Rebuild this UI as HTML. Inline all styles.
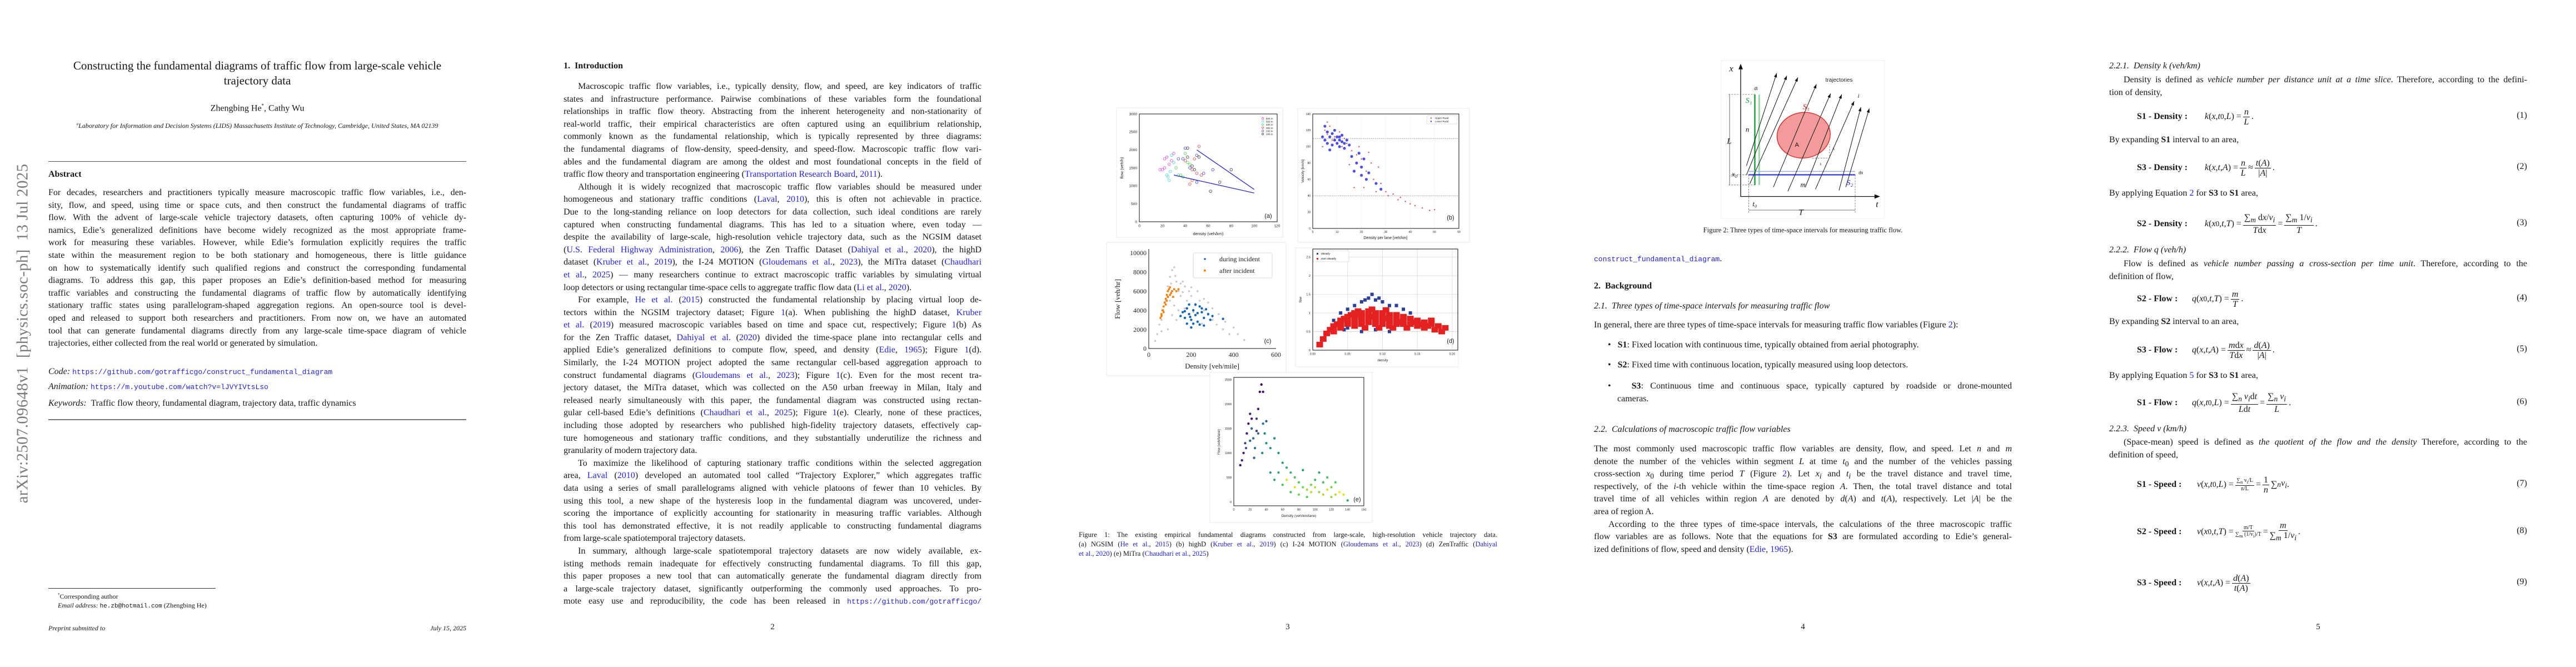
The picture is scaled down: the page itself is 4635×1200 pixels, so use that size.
<!DOCTYPE html>
<html><head><meta charset="utf-8"><title>Constructing the fundamental diagrams of traffic flow</title>
<style>
*{margin:0;padding:0;box-sizing:border-box}
html,body{width:4635px;height:1200px;overflow:hidden;background:#fff}
body{position:relative;font-family:"Liberation Serif",serif;color:#161616;font-size:16px}
.a{position:absolute}
.blk{position:absolute;width:752px;line-height:22.6px;font-size:16px}
.ln{text-align:justify;text-align-last:justify;height:22.6px;white-space:normal}
.ll{text-align:left;text-align-last:left;height:22.6px}
.in{padding-left:26px}
.c{color:#2424d8}
.m{font-family:"Liberation Mono",monospace;font-size:13px}
.pn{position:absolute;top:1120px;width:30px;text-align:center;font-size:15px}
.eqrow{position:absolute;height:44px;display:flex;align-items:center;font-size:16px}
.fr{display:inline-flex;flex-direction:column;align-items:center;vertical-align:middle;margin:0 3px;line-height:17px}
.fr>span:first-child{border-bottom:1px solid #1c1c1c;padding:0 2px}
.fr.s{font-size:10px;line-height:11px}
</style></head>
<body>
<svg id="ov" class="a" style="left:0;top:0" width="4635" height="1200"></svg>

<!-- PAGE 1 -->
<div class="a" style="left:41px;top:600px;transform:translate(-50%,-50%) rotate(-90deg);white-space:nowrap;font-size:29px;color:#7a7a7a;letter-spacing:0.3px">arXiv:2507.09648v1&nbsp; [physics.soc-ph]&nbsp; 13 Jul 2025</div>
<div class="a" style="left:87px;top:105px;width:752px;text-align:center;font-size:21px;line-height:27px">Constructing the fundamental diagrams of traffic flow from large-scale vehicle<br>trajectory data</div>
<div class="a" style="left:87px;top:185px;width:752px;text-align:center;font-size:16px">Zhengbing He<sup style="font-size:9px">*</sup>, Cathy Wu</div>
<div class="a" style="left:87px;top:219px;width:752px;text-align:center;font-size:12px;font-style:italic"><sup style="font-size:7px">a</sup>Laboratory for Information and Decision Systems (LIDS) Massachusetts Institute of Technology, Cambridge, United States, MA 02139</div>
<div class="a" style="left:87px;top:290px;width:752px;height:1px;background:#555"></div>
<div class="a" style="left:87px;top:305px;font-weight:bold;font-size:16px">Abstract</div>
<div class="blk" style="left:87px;top:336px">
<div class="ln">For decades, researchers and practitioners typically measure macroscopic traffic flow variables, i.e., den-</div>
<div class="ln">sity, flow, and speed, using time or space cuts, and then construct the fundamental diagrams of traffic</div>
<div class="ln">flow. With the advent of large-scale vehicle trajectory datasets, often capturing 100% of vehicle dy-</div>
<div class="ln">namics, Edie’s generalized definitions have become widely recognized as the most appropriate frame-</div>
<div class="ln">work for measuring these variables. However, while Edie’s formulation explicitly requires the traffic</div>
<div class="ln">state within the measurement region to be both stationary and homogeneous, there is little guidance</div>
<div class="ln">on how to systematically identify such qualified regions and construct the corresponding fundamental</div>
<div class="ln">diagrams. To address this gap, this paper proposes an Edie’s definition-based method for measuring</div>
<div class="ln">traffic variables and constructing the fundamental diagrams of traffic flow by automatically identifying</div>
<div class="ln">stationary traffic states using parallelogram-shaped aggregation regions. An open-source tool is devel-</div>
<div class="ln">oped and released to support both researchers and practitioners. From now on, we have an automated</div>
<div class="ln">tool that can generate fundamental diagrams directly from any large-scale time-space diagram of vehicle</div>
<div class="ll">trajectories, either collected from the real world or generated by simulation.</div>
</div>
<div class="a" style="left:87px;top:660px;font-size:16px"><i>Code:</i> <span class="m c">https://github.com/gotrafficgo/construct_fundamental_diagram</span></div>
<div class="a" style="left:87px;top:687px;font-size:16px"><i>Animation:</i> <span class="m c">https://m.youtube.com/watch?v=lJVYIVtsLso</span></div>
<div class="a" style="left:87px;top:717px;font-size:16px"><i>Keywords:</i>&nbsp; Traffic flow theory, fundamental diagram, trajectory data, traffic dynamics</div>
<div class="a" style="left:87px;top:754px;width:752px;height:2px;background:#777"></div>
<div class="a" style="left:87px;top:1058px;width:301px;height:1px;background:#333"></div>
<div class="a" style="left:104px;top:1062px;font-size:12px;line-height:16px"><sup style="font-size:7px">*</sup>Corresponding author<br><i>Email address:</i> <span class="m" style="font-size:11px">he.zb@hotmail.com</span> (Zhengbing He)</div>
<div class="a" style="left:87px;top:1123px;font-size:12px;font-style:italic">Preprint submitted to</div>
<div class="a" style="left:739px;width:100px;text-align:right;top:1123px;font-size:12px;font-style:italic">July 15, 2025</div>

<!-- PAGE 2 -->
<div class="a" style="left:1014px;top:110px;font-weight:bold;font-size:16px">1.&nbsp; Introduction</div>
<div class="blk" style="left:1014px;top:145px">
<div class="ln in">Macroscopic traffic flow variables, i.e., typically density, flow, and speed, are key indicators of traffic</div>
<div class="ln">states and infrastructure performance. Pairwise combinations of these variables form the foundational</div>
<div class="ln">relationships in traffic flow theory. Abstracting from the inherent heterogeneity and non-stationarity of</div>
<div class="ln">real-world traffic, their empirical characteristics are often captured using an equilibrium relationship,</div>
<div class="ln">commonly known as the fundamental relationship, which is typically represented by three diagrams:</div>
<div class="ln">the fundamental diagrams of flow-density, speed-density, and speed-flow. Macroscopic traffic flow vari-</div>
<div class="ln">ables and the fundamental diagram are among the oldest and most foundational concepts in the field of</div>
<div class="ll">traffic flow theory and transportation engineering (<span class="c">Transportation Research Board</span>, <span class="c">2011</span>).</div>
<div class="ln in">Although it is widely recognized that macroscopic traffic flow variables should be measured under</div>
<div class="ln">homogeneous and stationary traffic conditions (<span class="c">Laval</span>, <span class="c">2010</span>), this is often not achievable in practice.</div>
<div class="ln">Due to the long-standing reliance on loop detectors for data collection, such ideal conditions are rarely</div>
<div class="ln">captured when constructing fundamental diagrams. This has led to a situation where, even today —</div>
<div class="ln">despite the availability of large-scale, high-resolution vehicle trajectory data, such as the NGSIM dataset</div>
<div class="ln">(<span class="c">U.S. Federal Highway Administration</span>, <span class="c">2006</span>), the Zen Traffic Dataset (<span class="c">Dahiyal et al.</span>, <span class="c">2020</span>), the highD</div>
<div class="ln">dataset (<span class="c">Kruber et al.</span>, <span class="c">2019</span>), the I-24 MOTION (<span class="c">Gloudemans et al.</span>, <span class="c">2023</span>), the MiTra dataset (<span class="c">Chaudhari</span></div>
<div class="ln"><span class="c">et al.</span>, <span class="c">2025</span>) — many researchers continue to extract macroscopic traffic variables by simulating virtual</div>
<div class="ll">loop detectors or using rectangular time-space cells to aggregate traffic flow data (<span class="c">Li et al.</span>, <span class="c">2020</span>).</div>
<div class="ln in">For example, <span class="c">He et al.</span> (<span class="c">2015</span>) constructed the fundamental relationship by placing virtual loop de-</div>
<div class="ln">tectors within the NGSIM trajectory dataset; Figure <span class="c">1</span>(a). When publishing the highD dataset, <span class="c">Kruber</span></div>
<div class="ln"><span class="c">et al.</span> (<span class="c">2019</span>) measured macroscopic variables based on time and space cut, respectively; Figure <span class="c">1</span>(b) As</div>
<div class="ln">for the Zen Traffic dataset, <span class="c">Dahiyal et al.</span> (<span class="c">2020</span>) divided the time-space plane into rectangular cells and</div>
<div class="ln">applied Edie’s generalized definitions to compute flow, speed, and density (<span class="c">Edie</span>, <span class="c">1965</span>); Figure <span class="c">1</span>(d).</div>
<div class="ln">Similarly, the I-24 MOTION project adopted the same rectangular cell-based aggregation approach to</div>
<div class="ln">construct fundamental diagrams (<span class="c">Gloudemans et al.</span>, <span class="c">2023</span>); Figure <span class="c">1</span>(c). Even for the most recent tra-</div>
<div class="ln">jectory dataset, the MiTra dataset, which was collected on the A50 urban freeway in Milan, Italy and</div>
<div class="ln">released nearly simultaneously with this paper, the fundamental diagram was constructed using rectan-</div>
<div class="ln">gular cell-based Edie’s definitions (<span class="c">Chaudhari et al.</span>, <span class="c">2025</span>); Figure <span class="c">1</span>(e). Clearly, none of these practices,</div>
<div class="ln">including those adopted by researchers who published high-fidelity trajectory datasets, effectively cap-</div>
<div class="ln">ture homogeneous and stationary traffic conditions, and they substantially underutilize the richness and</div>
<div class="ll">granularity of modern trajectory data.</div>
<div class="ln in">To maximize the likelihood of capturing stationary traffic conditions within the selected aggregation</div>
<div class="ln">area, <span class="c">Laval</span> (<span class="c">2010</span>) developed an automated tool called “Trajectory Explorer,” which aggregates traffic</div>
<div class="ln">data using a series of small parallelograms aligned with vehicle platoons of fewer than 10 vehicles. By</div>
<div class="ln">using this tool, a new shape of the hysteresis loop in the fundamental diagram was uncovered, under-</div>
<div class="ln">scoring the importance of explicitly accounting for stationarity in measuring traffic variables. Although</div>
<div class="ln">this tool has demonstrated effective, it is not readily applicable to constructing fundamental diagrams</div>
<div class="ll">from large-scale spatiotemporal trajectory datasets.</div>
<div class="ln in">In summary, although large-scale spatiotemporal trajectory datasets are now widely available, ex-</div>
<div class="ln">isting methods remain inadequate for effectively constructing fundamental diagrams. To fill this gap,</div>
<div class="ln">this paper proposes a new tool that can automatically generate the fundamental diagram directly from</div>
<div class="ln">a large-scale trajectory dataset, significantly outperforming the commonly used approaches. To pro-</div>
<div class="ln">mote easy use and reproducibility, the code has been released in <span class="m c">https://github.com/gotrafficgo/</span></div>
</div>
<div class="pn" style="left:1375px">2</div>

<!-- PAGE 3 -->
<div class="a" style="left:1941px;top:954px;width:753px;font-size:12.5px;line-height:17px">
<div class="ln" style="height:17px">Figure 1: The existing empirical fundamental diagrams constructed from large-scale, high-resolution vehicle trajectory data.</div>
<div class="ln" style="height:17px">(a) NGSIM (<span class="c">He et al.</span>, <span class="c">2015</span>) (b) highD (<span class="c">Kruber et al.</span>, <span class="c">2019</span>) (c) I-24 MOTION (<span class="c">Gloudemans et al.</span>, <span class="c">2023</span>) (d) ZenTraffic (<span class="c">Dahiyal</span></div>
<div class="ll" style="height:17px"><span class="c">et al.</span>, <span class="c">2020</span>) (e) MiTra (<span class="c">Chaudhari et al.</span>, <span class="c">2025</span>)</div>
</div>
<div class="pn" style="left:2302px">3</div>

<!-- PAGE 4 -->
<div class="a" style="left:2868px;top:407px;width:752px;text-align:center;font-size:12.5px">Figure 2: Three types of time-space intervals for measuring traffic flow.</div>
<div class="a" style="left:2868px;top:457px;font-size:16px"><span class="m c">construct_fundamental_diagram</span>.</div>
<div class="a" style="left:2868px;top:506px;font-weight:bold">2.&nbsp; Background</div>
<div class="a" style="left:2868px;top:542px;font-style:italic">2.1.&nbsp; Three types of time-space intervals for measuring traffic flow</div>
<div class="a" style="left:2868px;top:576px">In general, there are three types of time-space intervals for measuring traffic flow variables (Figure <span class="c">2</span>):</div>
<div class="a" style="left:2893px;top:612px">•&nbsp;&nbsp; <b>S1</b>: Fixed location with continuous time, typically obtained from aerial photography.</div>
<div class="a" style="left:2893px;top:648px">•&nbsp;&nbsp; <b>S2</b>: Fixed time with continuous location, typically measured using loop detectors.</div>
<div class="a" style="left:2893px;top:684px;width:727px;line-height:22.6px"><div class="ln">•&nbsp;&nbsp; <b>S3</b>: Continuous time and continuous space, typically captured by roadside or drone-mounted</div><div class="ll" style="padding-left:17px">cameras.</div></div>
<div class="a" style="left:2868px;top:764px;font-style:italic">2.2.&nbsp; Calculations of macroscopic traffic flow variables</div>
<div class="blk" style="left:2868px;top:797px">
<div class="ln">The most commonly used macroscopic traffic flow variables are density, flow, and speed. Let <i>n</i> and <i>m</i></div>
<div class="ln">denote the number of the vehicles within segment <i>L</i> at time <i>t</i><sub>0</sub> and the number of the vehicles passing</div>
<div class="ln">cross-section <i>x</i><sub>0</sub> during time period <i>T</i> (Figure <span class="c">2</span>). Let <i>x<sub>i</sub></i> and <i>t<sub>i</sub></i> be the travel distance and travel time,</div>
<div class="ln">respectively, of the <i>i</i>-th vehicle within the time-space region <i>A</i>. Then, the total travel distance and total</div>
<div class="ln">travel time of all vehicles within region <i>A</i> are denoted by <i>d</i>(<i>A</i>) and <i>t</i>(<i>A</i>), respectively. Let |<i>A</i>| be the</div>
<div class="ll">area of region A.</div>
<div class="ln in">According to the three types of time-space intervals, the calculations of the three macroscopic traffic</div>
<div class="ln">flow variables are as follows. Note that the equations for <b>S3</b> are formulated according to Edie’s general-</div>
<div class="ll">ized definitions of flow, speed and density (<span class="c">Edie</span>, <span class="c">1965</span>).</div>
</div>
<div class="pn" style="left:3229px">4</div>

<!-- PAGE 5 -->
<div class="a" style="left:3795px;top:110px;font-style:italic">2.2.1.&nbsp; Density k (veh/km)</div>
<div class="blk" style="left:3795px;top:133px"><div class="ln in">Density is defined as <i>vehicle number per distance unit at a time slice</i>. Therefore, according to the defini-</div><div class="ll">tion of density,</div></div>
<div class="a" style="left:3795px;top:243px">By expanding <b>S1</b> interval to an area,</div>
<div class="a" style="left:3795px;top:339px">By applying Equation <span class="c">2</span> for <b>S3</b> to <b>S1</b> area,</div>
<div class="a" style="left:3795px;top:441px;font-style:italic">2.2.2.&nbsp; Flow q (veh/h)</div>
<div class="blk" style="left:3795px;top:464px"><div class="ln in">Flow is defined as <i>vehicle number passing a cross-section per time unit</i>. Therefore, according to the</div><div class="ll">definition of flow,</div></div>
<div class="a" style="left:3795px;top:570px">By expanding <b>S2</b> interval to an area,</div>
<div class="a" style="left:3795px;top:667px">By applying Equation <span class="c">5</span> for <b>S3</b> to <b>S1</b> area,</div>
<div class="a" style="left:3795px;top:763px;font-style:italic">2.2.3.&nbsp; Speed v (km/h)</div>
<div class="blk" style="left:3795px;top:785px"><div class="ln in">(Space-mean) speed is defined as <i>the quotient of the flow and the density</i> Therefore, according to the</div><div class="ll">definition of speed,</div></div>

<div class="eqrow" style="left:3845px;top:188px"><b style="width:122px">S1 - Density :</b><i>k</i>(<i>x</i>, <i>t</i><sub>0</sub>, <i>L</i>) = <span class="fr"><span><i>n</i></span><span><i>L</i></span></span>.</div>
<div class="eqrow" style="left:3845px;top:280px"><b style="width:122px">S3 - Density :</b><i>k</i>(<i>x</i>, <i>t</i>, <i>A</i>) = <span class="fr"><span><i>n</i></span><span><i>L</i></span></span> ≈ <span class="fr"><span><i>t</i>(<i>A</i>)</span><span>|<i>A</i>|</span></span>.</div>
<div class="eqrow" style="left:3845px;top:381px"><b style="width:122px">S2 - Density :</b><i>k</i>(<i>x</i><sub>0</sub>, <i>t</i>, <i>T</i>) = <span class="fr"><span>∑<sub><i>m</i></sub> d<i>x</i>/<i>v<sub>i</sub></i></span><span><i>T</i>d<i>x</i></span></span> = <span class="fr"><span>∑<sub><i>m</i></sub> 1/<i>v<sub>i</sub></i></span><span><i>T</i></span></span>.</div>
<div class="eqrow" style="left:3845px;top:516px"><b style="width:99px">S2 - Flow :</b><i>q</i>(<i>x</i><sub>0</sub>, <i>t</i>, <i>T</i>) = <span class="fr"><span><i>m</i></span><span><i>T</i></span></span>.</div>
<div class="eqrow" style="left:3845px;top:608px"><b style="width:99px">S3 - Flow :</b><i>q</i>(<i>x</i>, <i>t</i>, <i>A</i>) = <span class="fr"><span><i>m</i>d<i>x</i></span><span><i>T</i>d<i>x</i></span></span> ≈ <span class="fr"><span><i>d</i>(<i>A</i>)</span><span>|<i>A</i>|</span></span>.</div>
<div class="eqrow" style="left:3845px;top:703px"><b style="width:99px">S1 - Flow :</b><i>q</i>(<i>x</i>, <i>t</i><sub>0</sub>, <i>L</i>) = <span class="fr"><span>∑<sub><i>n</i></sub> <i>v<sub>i</sub></i>d<i>t</i></span><span><i>L</i>d<i>t</i></span></span> = <span class="fr"><span>∑<sub><i>n</i></sub> <i>v<sub>i</sub></i></span><span><i>L</i></span></span>.</div>
<div class="eqrow" style="left:3845px;top:850px"><b style="width:108px">S1 - Speed :</b><i>v</i>(<i>x</i>, <i>t</i><sub>0</sub>, <i>L</i>) = <span class="fr s"><span>∑<sub>n</sub> v<sub>i</sub>/L</span><span>n/L</span></span> = <span class="fr"><span>1</span><span><i>n</i></span></span>∑<sub><i>n</i></sub> <i>v<sub>i</sub></i>.</div>
<div class="eqrow" style="left:3845px;top:935px"><b style="width:108px">S2 - Speed :</b><i>v</i>(<i>x</i><sub>0</sub>, <i>t</i>, <i>T</i>) = <span class="fr s"><span>m/T</span><span>∑<sub>m</sub> (1/v<sub>i</sub>)/T</span></span> = <span class="fr"><span><i>m</i></span><span>∑<sub><i>m</i></sub> 1/<i>v<sub>i</sub></i></span></span>.</div>
<div class="eqrow" style="left:3845px;top:1027px"><b style="width:108px">S3 - Speed :</b><i>v</i>(<i>x</i>, <i>t</i>, <i>A</i>) = <span class="fr"><span><i>d</i>(<i>A</i>)</span><span><i>t</i>(<i>A</i>)</span></span></div>
<div class="a" style="left:4500px;width:47px;text-align:right;top:199px">(1)</div>
<div class="a" style="left:4500px;width:47px;text-align:right;top:291px">(2)</div>
<div class="a" style="left:4500px;width:47px;text-align:right;top:392px">(3)</div>
<div class="a" style="left:4500px;width:47px;text-align:right;top:527px">(4)</div>
<div class="a" style="left:4500px;width:47px;text-align:right;top:619px">(5)</div>
<div class="a" style="left:4500px;width:47px;text-align:right;top:714px">(6)</div>
<div class="a" style="left:4500px;width:47px;text-align:right;top:861px">(7)</div>
<div class="a" style="left:4500px;width:47px;text-align:right;top:946px">(8)</div>
<div class="a" style="left:4500px;width:47px;text-align:right;top:1038px">(9)</div>
<div class="pn" style="left:4156px">5</div>

<script>
// ---------- DATA ----------
const aTicksX=[0,20,40,60,80,100,120];
const aTicksY=[0,500,1000,1500,2000,2500,3000];
const aSeriesNames=['600 m','500 m','400 m','300 m','200 m','100 m'];
const a600=[[20,1450],[22,1750],[24,1800],[26,1600],[28,1700],[22,1500],[30,1900],[18,1450]];
const a500=[[24,1300],[26,1150],[28,1850],[30,1650],[25,1250],[27,1400]];
const a400=[[32,1500],[36,1300],[40,1900],[42,1650],[38,1250],[44,1600],[34,1300]];
const a300=[[40,1700],[46,1450],[48,1750],[50,1350],[52,2100],[54,1300],[46,1150],[44,1050]];
const a200=[[38,1750],[40,2050],[44,1500],[50,1100],[56,1350],[64,1450],[34,1750],[50,1850]];
const a100=[[42,1800],[48,1450],[52,1800],[62,850],[70,1100],[80,1450],[46,1550],[42,2050]];
const aLine1=[[50,2000],[100,900]];
const aLine2=[[30,1300],[100,800]];

const bTicksX=[0,10,20,30,40,50,60];
const bTicksY=[0,20,40,60,80,100,120,140];
const bRefLines=[110,40];
const bUpper=[[5,120],[6,115],[7,125],[8,108],[9,112],[10,105],[11,118],[12,100],[13,110],[14,104],[16,95],[18,90],[20,85],[22,70],[24,80],[25,60],[27,75],[28,55],[30,45],[31,40],[33,42],[35,35],[36,38],[38,33],[40,30],[42,28],[45,25],[48,22],[50,23],[17,50],[21,50],[26,45],[15,78],[19,100],[23,93],[6,130],[4,100]];
const bLower=[[4,112],[5,108],[6,118],[6,104],[7,112],[8,116],[8,102],[9,108],[9,120],[10,112],[10,104],[11,108],[11,100],[12,114],[12,106],[13,104],[14,108],[15,102],[7,96],[16,88],[18,80],[19,92],[20,75],[21,85],[23,68],[22,60],[26,55],[28,48],[20,65],[17,70],[5,125],[11,112],[13,98]];

const cTicksX=[0,200,400,600];
const cTicksY=[0,2000,4000,6000,8000,10000];
const cGrey=[[40,1500],[50,2500],[60,3000],[70,4000],[80,5000],[90,6500],[100,7500],[110,8200],[120,8500],[130,7000],[140,6000],[150,5500],[160,7000],[170,6500],[180,5000],[200,5500],[220,4500],[240,5000],[260,4000],[280,3500],[300,3000],[320,2500],[350,2000],[380,1500],[420,1500],[450,900],[100,5000],[120,4500],[140,4000],[130,3000],[90,2000],[110,3500],[190,6000],[210,3800],[250,2600],[60,1800],[150,6800],[170,4200],[230,6000],[280,4800],[125,7600],[105,6800],[160,5900],[200,6400],[300,4200],[330,3600],[260,5200],[360,2800],[400,2200],[30,800]];
const cAfter=[[55,3200],[60,3600],[65,4000],[70,4400],[75,4800],[80,5200],[85,5600],[90,6000],[95,6200],[100,6400],[105,5800],[110,6000],[120,6200],[130,6000],[140,6200],[70,3800],[80,4600],[90,5400],[100,5600],[115,5400],[60,3400],[85,5000]];
const cDuring=[[160,3800],[170,3200],[180,4200],[190,3600],[200,3000],[210,4000],[220,3500],[230,2800],[240,4400],[250,3800],[260,3200],[270,4100],[280,3600],[290,3000],[180,2600],[200,2200],[220,4600],[240,2500],[260,2400],[300,3400],[150,3400],[190,4600],[210,2600],[350,3100],[170,3900],[250,4200],[195,3300],[230,3700]];

const dTicksX=[0,0.05,0.10,0.15,0.20];
const dTickLabelsX=['0.00','0.05','0.10','0.15','0.20'];
const dTicksY=[0,0.5,1.0,1.5,2.0,2.5];
const dSteady=[[0.03,0.8],[0.04,1.0],[0.05,1.1],[0.06,1.2],[0.07,1.3],[0.08,1.4],[0.085,1.5],[0.09,1.35],[0.1,1.3],[0.11,1.2],[0.12,1.2],[0.13,1.1],[0.14,1.0],[0.05,0.6],[0.07,0.5],[0.09,0.55],[0.11,0.5],[0.06,0.9],[0.1,1.0],[0.12,0.9],[0.075,1.35],[0.095,1.4],[0.045,0.55]];
const dNonSteady=[[0.01,0.15],[0.015,0.3],[0.02,0.45],[0.025,0.55],[0.03,0.65],[0.035,0.7],[0.04,0.8],[0.045,0.85],[0.05,0.9],[0.055,0.95],[0.06,1.0],[0.07,1.0],[0.08,1.05],[0.09,1.0],[0.1,1.0],[0.11,0.95],[0.12,0.95],[0.13,0.9],[0.14,0.85],[0.15,0.8],[0.16,0.75],[0.17,0.7],[0.18,0.65],[0.19,0.6],[0.03,0.5],[0.04,0.6],[0.05,0.7],[0.06,0.75],[0.07,0.8],[0.08,0.85],[0.09,0.8],[0.1,0.8],[0.11,0.75],[0.12,0.8],[0.13,0.7],[0.14,0.7],[0.15,0.65],[0.16,0.6],[0.05,0.8],[0.06,0.85],[0.07,0.9],[0.08,0.95],[0.09,0.9],[0.1,0.9],[0.11,0.85],[0.12,0.85],[0.13,0.8],[0.06,0.65],[0.07,0.7],[0.08,0.75],[0.09,0.7],[0.1,0.7],[0.11,0.65],[0.12,0.7],[0.04,0.7],[0.065,0.95],[0.085,0.9],[0.105,0.85],[0.125,0.75],[0.145,0.75],[0.155,0.7],[0.165,0.65],[0.175,0.55],[0.185,0.5],[0.17,0.8],[0.075,0.6],[0.095,0.6],[0.115,0.6],[0.135,0.6],[0.085,1.1],[0.105,1.08],[0.065,1.05]];

const eTicksX=[0,20,40,60,80,100,120,140,160];
const eTicksY=[0,500,1000,1500,2000,2500];
const eDensity=[8,10,12,14,16,18,20,22,24,26,28,30,32,34,36,36,38,40,45,50,55,60,65,70,75,80,85,90,95,100,105,110,115,120,125,130,140,50,60,70,80,90,100,110,120,65,85,95,55,75,45,25,15,20,30,40,35,28,22,105,115,135,125];
const eFlow=[750,850,1000,1200,1400,1600,1800,1500,1300,1100,1700,1900,2250,2400,2250,1600,1400,1200,1100,1300,1000,800,700,600,500,400,300,250,350,300,200,150,250,300,150,200,30,450,350,200,150,100,450,400,100,450,650,200,600,300,600,900,1100,1250,1400,1650,1000,1450,1700,600,500,150,400];
const eColor=[0.05,0.1,0.1,0.2,0.1,0.05,0.1,0.3,0.35,0.4,0.2,0.05,0.05,0,0.05,0.4,0.45,0.5,0.5,0.45,0.5,0.55,0.6,0.65,0.7,0.75,0.8,0.85,0.8,0.9,0.85,0.9,0.95,0.8,0.9,1,0.6,0.6,0.7,0.7,0.8,0.75,0.65,0.7,0.85,0.95,0.55,0.9,0.6,0.95,0.55,0.3,0.25,0.3,0.35,0.3,0.45,0.15,0.05,0.6,0.7,0.95,0.75];

// ---------- DRAWING ----------
const svg=document.getElementById('ov');
const NS=svg.namespaceURI;
function mk(tag,at,parent){const e=document.createElementNS(NS,tag);for(const k in at)e.setAttribute(k,at[k]);(parent||svg).appendChild(e);return e;}
function lin(d0,d1,p0,p1){return v=>p0+(v-d0)/(d1-d0)*(p1-p0);}
function txt(x,y,s,at){const t=mk('text',Object.assign({x:x,y:y,'font-family':'Liberation Sans, sans-serif','font-size':6.5,fill:'#222'},at||{}));t.textContent=s;return t;}

function frame(x0,y0,x1,y1,name){const r=mk('rect',{x:x0,y:y0,width:x1-x0,height:y1-y0,fill:'#fff',stroke:'#e8e8e8','stroke-width':1});

}
function plotBox(x0,y0,x1,y1,name){const r=mk('rect',{x:x0,y:y0,width:x1-x0,height:y1-y0,fill:'none',stroke:'#111','stroke-width':1});

}
function ticks(sx,sy,tx,ty,x0,y1,labX,labY,fs,font){
 tx.forEach((v,i)=>{const t=txt(sx(v),y1+fs+3,labX?labX[i]:String(v),{'text-anchor':'middle','font-size':fs,'font-family':font});
 
 });
 ty.forEach(v=>{const t=txt(x0-4,sy(v)+fs*0.35,String(v),{'text-anchor':'end','font-size':fs,'font-family':font});
 
 });
}

// Panel (a)
frame(2009,194,2308,427,'panel-a-frame');
{const sx=lin(0,120,2050,2298),sy=lin(0,3000,399,205);
plotBox(2050,205,2298,399,'panel-a-plot-area');
ticks(sx,sy,aTicksX,aTicksY,2050,399,null,null,6.5,'Liberation Sans, sans-serif');
const cols=['#e040e0','#40d8e0','#50d050','#e04040','#4040e0','#333'];
[a600,a500,a400,a300,a200,a100].forEach((ser,k)=>{ser.forEach(p=>{const c=mk('circle',{cx:sx(p[0]),cy:sy(p[1]),r:2.3,fill:'none',stroke:cols[k],'stroke-width':0.8});

});
const lm=mk('circle',{cx:2272,cy:213+k*5.6,r:1.6,fill:'none',stroke:cols[k],'stroke-width':0.7});


const lt=txt(2278,215+k*5.6,aSeriesNames[k],{'font-size':4.5});

});
[aLine1,aLine2].forEach(L=>{const l=mk('line',{x1:sx(L[0][0]),y1:sy(L[0][1]),x2:sx(L[1][0]),y2:sy(L[1][1]),stroke:'#2a2ad0','stroke-width':1.3});

});
let t=txt(2174,423,'density (veh/km)',{'text-anchor':'middle','font-size':7.5});
t=txt(0,0,'flow (veh/h)',{'text-anchor':'middle','font-size':7.5,transform:'translate(2021,302) rotate(-90)'});
t=txt(2282,392,'(a)',{'text-anchor':'middle','font-size':11});}

// Panel (b)
frame(2335,195,2644,436,'panel-b-frame');
{const sx=lin(0,60,2362,2625),sy=lin(0,140,411,205);
bRefLines.forEach(v=>{const l=mk('line',{x1:2362,x2:2625,y1:sy(v),y2:sy(v),stroke:'#777','stroke-width':0.8,'stroke-dasharray':'2,1.5'});

});
bTicksX.forEach(v=>{const l=mk('line',{x1:sx(v),x2:sx(v),y1:205,y2:411,stroke:'#eee','stroke-width':0.6});

});
bUpper.forEach(p=>{const c=mk('circle',{cx:sx(p[0]),cy:sy(p[1]),r:1.2,fill:'#e04848'});

});
bLower.forEach(p=>{const c=mk('circle',{cx:sx(p[0]),cy:sy(p[1]),r:2.6,fill:'#3030d8',opacity:0.85});

});
plotBox(2362,205,2625,411,'panel-b-plot-area');
ticks(sx,sy,bTicksX,bTicksY,2362,411,null,null,5,'Liberation Sans, sans-serif');
const lg=mk('rect',{x:2567,y:208,width:55,height:15,fill:'#fff',stroke:'#ccc','stroke-width':0.6});
let t=txt(2582,214,'Upper Road',{'font-size':4.5});
t=txt(2582,220,'Lower Road',{'font-size':4.5});
let c=mk('circle',{cx:2575,cy:212.5,r:1.2,fill:'#e04848'});
c=mk('circle',{cx:2575,cy:218.5,r:1.2,fill:'#3030d8'});
t=txt(2493,430,'Density per lane [veh/km]',{'text-anchor':'middle','font-size':7});
t=txt(0,0,'Velocity [km/h]',{'text-anchor':'middle','font-size':6.5,transform:'translate(2346,308) rotate(-90)'});
t=txt(2610,395,'(b)',{'text-anchor':'middle','font-size':11});}

// Panel (c)
frame(1991,436,2314,676,'panel-c-frame');
{const sx=lin(0,600,2067,2296),sy=lin(0,10000,627,455);
cGrey.forEach(p=>{const c=mk('circle',{cx:sx(p[0]),cy:sy(p[1]),r:1.8,fill:'#bbb',opacity:0.8});

});
cAfter.forEach(p=>{const c=mk('rect',{x:sx(p[0])-1.8,y:sy(p[1])-1.8,width:3.6,height:3.6,fill:'#f08010'});

});
cDuring.forEach(p=>{const c=mk('circle',{cx:sx(p[0]),cy:sy(p[1]),r:2.2,fill:'#1565b0'});

});
const ax=mk('path',{d:'M2067,448 V627 H2296',fill:'none',stroke:'#111','stroke-width':1});
ticks(sx,sy,cTicksX,cTicksY,2067,627,null,null,12,'Liberation Serif, serif');
const lg=mk('rect',{x:2147,y:455,width:142,height:45,rx:3,fill:'#fff',stroke:'#ccc','stroke-width':0.8});
let c=mk('circle',{cx:2168,cy:466,r:1.8,fill:'#1565b0'});
c=mk('rect',{x:2166,y:485,width:3.6,height:3.6,fill:'#f08010'});
let t=txt(2194,470,'during incident',{'font-size':12,'font-family':'Liberation Serif, serif'});
t=txt(2194,491,'after incident',{'font-size':12,'font-family':'Liberation Serif, serif'});
t=txt(2181,663,'Density [veh/mile]',{'text-anchor':'middle','font-size':13,'font-family':'Liberation Serif, serif'});
t=txt(0,0,'Flow [veh/hr]',{'text-anchor':'middle','font-size':13,'font-family':'Liberation Serif, serif',transform:'translate(2015,538) rotate(-90)'});
t=txt(2281,617,'(c)',{'text-anchor':'middle','font-size':11});}

// Panel (d)
frame(2331,446,2624,660,'panel-d-frame');
{const sx=lin(0,0.208,2362,2623),sy=lin(0,2.72,630,448);
dTicksX.forEach(v=>{const l=mk('line',{x1:sx(v),x2:sx(v),y1:448,y2:630,stroke:'#d8d8d8','stroke-width':0.8});});
dTicksY.forEach(v=>{const l=mk('line',{x1:2362,x2:2623,y1:sy(v),y2:sy(v),stroke:'#d8d8d8','stroke-width':0.8});});
dSteady.forEach(p=>{const c=mk('rect',{x:sx(p[0])-3,y:sy(p[1])-3,width:6,height:6,fill:'#2a3f9a'});

});
dNonSteady.forEach(p=>{const c=mk('rect',{x:sx(p[0])-6,y:sy(p[1])-5,width:12,height:10,fill:'#e52020'});

});
plotBox(2362,448,2623,630,'panel-d-plot-area');
ticks(sx,sy,dTicksX,dTicksY,2362,630,dTickLabelsX,null,5.5,'Liberation Sans, sans-serif');
const lg=mk('rect',{x:2363,y:451,width:64,height:20,fill:'#fff',stroke:'#ccc','stroke-width':0.6});
let c=mk('rect',{x:2369,y:455,width:3,height:3,fill:'#2a3f9a'});
c=mk('rect',{x:2369,y:464,width:3,height:3,fill:'#e52020'});
let t=txt(2377,458,'steady',{'font-size':5.5});
t=txt(2377,467,'non-steady',{'font-size':5.5});
t=txt(2488,650,'density',{'text-anchor':'middle','font-size':6});
t=txt(0,0,'flow',{'text-anchor':'middle','font-size':6,transform:'translate(2342,539) rotate(-90)'});
t=txt(2610,617,'(d)',{'text-anchor':'middle','font-size':11});}

// Panel (e)
frame(2177,670,2469,940,'panel-e-frame');
{const sx=lin(0,160,2220,2454),sy=lin(-80,2545,910,679);
const stops=[[68,1,84],[59,82,139],[33,145,140],[94,201,98],[253,231,37]];
function vir(t){const s=Math.min(3.999,Math.max(0,t*4));const i=Math.floor(s),f=s-i;const a=stops[i],b=stops[i+1];return 'rgb('+a.map((v,k)=>Math.round(v+(b[k]-v)*f)).join(',')+')';}
eDensity.forEach((d,i)=>{const c=mk('circle',{cx:sx(d),cy:sy(eFlow[i]),r:2.2,fill:vir(eColor[i])});

});
plotBox(2220,679,2454,910,'panel-e-plot-area');
ticks(sx,sy,eTicksX,eTicksY,2220,910,null,null,5.5,'Liberation Sans, sans-serif');
let t=txt(2337,930,'Density (veh/km/lane)',{'text-anchor':'middle','font-size':6.5});
t=txt(0,0,'Flow (veh/h/lane)',{'text-anchor':'middle','font-size':6,transform:'translate(2195,795) rotate(-90)'});
t=txt(2442,902,'(e)',{'text-anchor':'middle','font-size':11});}

// Figure 2 (schematic, display-coordinate helper)
{const X=d=>2800+d/1.6505,Y=d=>d/1.307;
const fb=mk('rect',{x:X(490),y:Y(142),width:X(975)-X(490),height:Y(514)-Y(142),fill:'none',stroke:'#eee'});
const red=mk('ellipse',{cx:X(735),cy:Y(318),rx:48,ry:41,fill:'#f39a9a',stroke:'#e02020','stroke-width':1.3,transform:'rotate(-8 '+X(735)+' '+Y(318)+')'});
const g2=mk('line',{x1:X(603),y1:Y(222),x2:X(603),y2:Y(435),stroke:'#9fd8b0','stroke-width':3});
const g=mk('line',{x1:X(590),y1:Y(222),x2:X(590),y2:Y(435),stroke:'#20a040','stroke-width':2.5});
const b2=mk('line',{x1:X(572),y1:Y(403),x2:X(888),y2:Y(403),stroke:'#9aa8f0','stroke-width':1.5});
const b=mk('line',{x1:X(572),y1:Y(411),x2:X(888),y2:Y(411),stroke:'#2020e0','stroke-width':2});
const arrows=[[565,390,655,172],[565,412,685,178],[575,432,718,182],[645,440,773,198],[688,450,815,220],[740,440,848,222],[770,445,885,238],[840,448,905,252],[860,440,930,255]];
arrows.forEach(a=>{const l=mk('line',{x1:X(a[0]),y1:Y(a[1]),x2:X(a[2]),y2:Y(a[3]),stroke:'#111','stroke-width':1});


const ang=Math.atan2(Y(a[3])-Y(a[1]),X(a[2])-X(a[0]));const hx=X(a[2]),hy=Y(a[3]);
const h=mk('polygon',{points:hx+','+hy+' '+(hx-8*Math.cos(ang-0.35))+','+(hy-8*Math.sin(ang-0.35))+' '+(hx-8*Math.cos(ang+0.35))+','+(hy-8*Math.sin(ang+0.35)),fill:'#111'});

});
const axp=mk('path',{d:'M'+X(548)+','+Y(155)+' V'+Y(462)+' H'+X(955),fill:'none',stroke:'#111','stroke-width':1.3});
let h=mk('polygon',{points:X(548)+','+Y(150)+' '+(X(548)-4)+','+(Y(150)+10)+' '+(X(548)+4)+','+(Y(150)+10),fill:'#111'});
h=mk('polygon',{points:X(962)+','+Y(462)+' '+(X(962)-10)+','+(Y(462)-4)+' '+(X(962)-10)+','+(Y(462)+4),fill:'#111'});
const dsh=mk('path',{d:'M'+X(512)+','+Y(222)+' H'+X(590)+' M'+X(512)+','+Y(435)+' H'+X(590)+' M'+X(520)+','+Y(411)+' H'+X(572)+' M'+X(572)+','+Y(411)+' V'+Y(500)+' M'+X(888)+','+Y(411)+' V'+Y(500)+' M'+X(760)+','+Y(372)+' H'+X(812)+' V'+Y(340),fill:'none',stroke:'#666','stroke-width':0.8,'stroke-dasharray':'3,2'});
const dim=mk('path',{d:'M'+X(515)+','+Y(222)+' V'+Y(435)+' M'+X(572)+','+Y(494)+' H'+X(888),fill:'none',stroke:'#444','stroke-width':0.8});
const labels=[['x',520,168,16,'#111','italic','Liberation Serif, serif'],['L',514,338,15,'#111','italic','Liberation Serif, serif'],['x₀',530,415,13,'#111','italic','Liberation Serif, serif'],['t₀',590,485,13,'#111','italic','Liberation Serif, serif'],['T',727,505,15,'#111','italic','Liberation Serif, serif'],['t',953,487,16,'#111','italic','Liberation Serif, serif'],['trajectories',840,192,10,'#222','normal','Liberation Sans, sans-serif'],['dt',593,212,8,'#222','normal','Liberation Sans, sans-serif'],['dx',905,410,8,'#222','normal','Liberation Sans, sans-serif'],['S₁',572,242,14,'#20a040','italic','Liberation Serif, serif'],['S₃',742,257,14,'#e02020','italic','Liberation Serif, serif'],['S₂',872,435,14,'#2020e0','italic','Liberation Serif, serif'],['n',568,310,13,'#111','italic','Liberation Serif, serif'],['m',733,440,13,'#111','italic','Liberation Serif, serif'],['A',715,345,11,'#111','normal','Liberation Sans, sans-serif'],['i',898,230,10,'#111','italic','Liberation Serif, serif'],['xᵢ',824,352,7,'#111','italic','Liberation Serif, serif'],['tᵢ',786,388,7,'#111','italic','Liberation Serif, serif']];
labels.forEach(L=>{const t=txt(X(L[1]),Y(L[2]),L[0],{'text-anchor':'middle','font-size':L[3],fill:L[4],'font-style':L[5],'font-family':L[6]});

});}
</script>
</body></html>
